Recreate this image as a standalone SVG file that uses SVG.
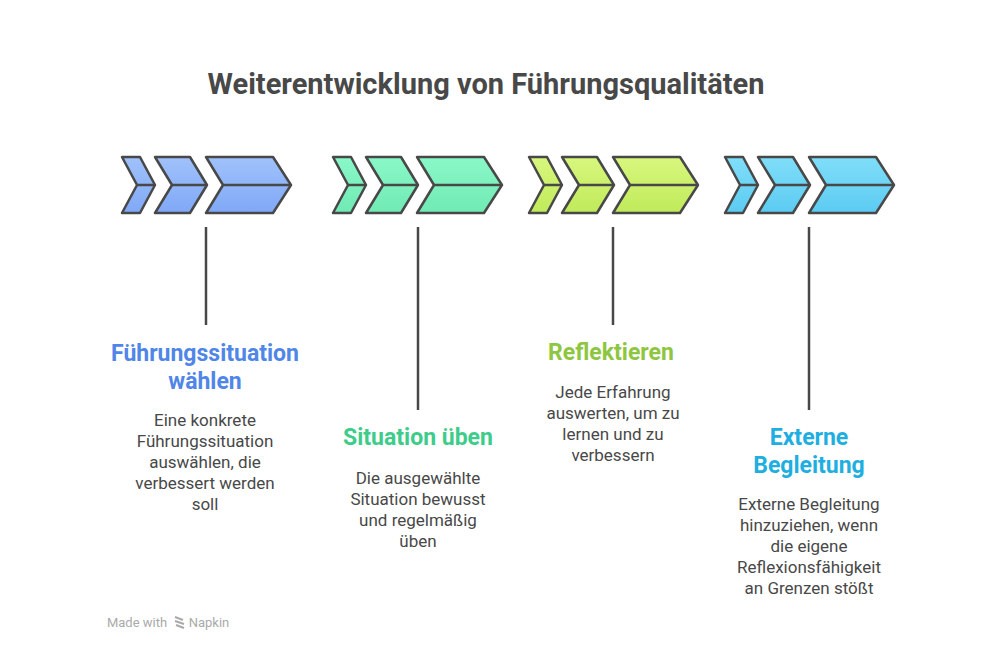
<svg xmlns="http://www.w3.org/2000/svg" width="1000" height="666" viewBox="0 0 1000 666">
<style>
text{font-family:Roboto,"Liberation Sans",sans-serif;text-anchor:middle}
.t{font-size:29px;font-weight:bold;fill:#484848}
.h{font-size:23px;font-weight:bold}
.b{font-size:17px;fill:#484848}
.s{stroke:#484848;stroke-width:2.5;stroke-linejoin:round}
.ln{stroke:#484848;stroke-width:2.5}
</style>
<defs>
<g id="chev">
<polygon class="s" points="0,0 18,0 33,28 18,56 0,56 15,28"/>
<polygon class="s" points="33,0 68,0 85,28 68,56 33,56 50,28"/>
<polygon class="s" points="84,0 151,0 169,28 151,56 84,56 101,28"/>
<path d="M15,28H33M50,28H85M101,28H169" class="s" fill="none"/>
</g>
</defs>
<rect width="1000" height="666" fill="#fff"/>
<text class="t" x="486" y="94">Weiterentwicklung von Führungsqualitäten</text>
<g id="node1">
<linearGradient id="g1" x1="0" y1="0" x2="0" y2="1"><stop offset="0" stop-color="#a0c2fb"/><stop offset="1" stop-color="#80a8f7"/></linearGradient>
<use href="#chev" x="122" y="157" fill="url(#g1)"/>
<text class="h" fill="#4f86e8" x="205" y="361">Führungssituation</text>
<text class="h" fill="#4f86e8" x="205" y="389">wählen</text>
<text class="b" x="205" y="426">Eine konkrete</text>
<text class="b" x="205" y="447">Führungssituation</text>
<text class="b" x="205" y="468">auswählen, die</text>
<text class="b" x="205" y="489">verbessert werden</text>
<text class="b" x="205" y="510">soll</text>
</g>
<g id="node2">
<linearGradient id="g2" x1="0" y1="0" x2="0" y2="1"><stop offset="0" stop-color="#8af8c8"/><stop offset="1" stop-color="#70eab4"/></linearGradient>
<use href="#chev" x="333" y="157" fill="url(#g2)"/>
<text class="h" fill="#3dcc8a" x="418" y="445">Situation üben</text>
<text class="b" x="418" y="484">Die ausgewählte</text>
<text class="b" x="418" y="505">Situation bewusst</text>
<text class="b" x="418" y="526">und regelmäßig</text>
<text class="b" x="418" y="547">üben</text>
</g>
<g id="node3">
<linearGradient id="g3" x1="0" y1="0" x2="0" y2="1"><stop offset="0" stop-color="#d8f77e"/><stop offset="1" stop-color="#c0ea5a"/></linearGradient>
<use href="#chev" x="529" y="157" fill="url(#g3)"/>
<text class="h" fill="#8ec63f" x="611" y="360">Reflektieren</text>
<text class="b" x="613" y="398">Jede Erfahrung</text>
<text class="b" x="613" y="419">auswerten, um zu</text>
<text class="b" x="613" y="440">lernen und zu</text>
<text class="b" x="613" y="461">verbessern</text>
</g>
<g id="node4">
<linearGradient id="g4" x1="0" y1="0" x2="0" y2="1"><stop offset="0" stop-color="#80def9"/><stop offset="1" stop-color="#5ccbf2"/></linearGradient>
<use href="#chev" x="725" y="157" fill="url(#g4)"/>
<text class="h" fill="#1eaee0" x="809" y="445">Externe</text>
<text class="h" fill="#1eaee0" x="809" y="473">Begleitung</text>
<text class="b" x="809" y="510">Externe Begleitung</text>
<text class="b" x="809" y="531">hinzuziehen, wenn</text>
<text class="b" x="809" y="552">die eigene</text>
<text class="b" x="809" y="573">Reflexionsfähigkeit</text>
<text class="b" x="809" y="594">an Grenzen stößt</text>
</g>
<g id="connectors">
<line class="ln" x1="206" y1="227" x2="206" y2="325"/>
<line class="ln" x1="418" y1="227" x2="418" y2="410"/>
<line class="ln" x1="613" y1="227" x2="613" y2="325"/>
<line class="ln" x1="809" y1="227" x2="809" y2="410"/>
</g>
<text x="137" y="627" style="font-size:13px;fill:#aaa">Made with</text>
<path d="M175,617l8,3M175,621l9,3M176,625l8,3" stroke="#aaa" stroke-width="2" fill="none"/>
<text x="209" y="627" style="font-size:13px;fill:#aaa">Napkin</text>
</svg>
